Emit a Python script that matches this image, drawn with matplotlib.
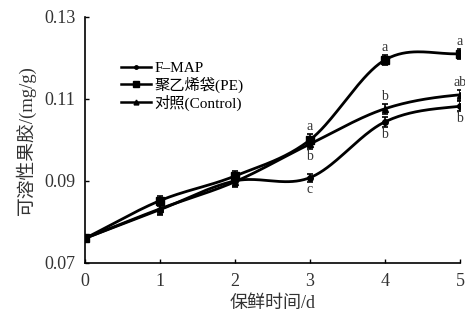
import numpy as np
import matplotlib
matplotlib.use("Agg")
import matplotlib.pyplot as plt

plt.rcParams['font.family'] = ['Liberation Serif', 'Noto Sans CJK SC']
plt.rcParams['axes.unicode_minus'] = False

days = [0, 1, 2, 3, 4, 5]
fmap = [0.0760, 0.0830, 0.0900, 0.0908, 0.1044, 0.1082]
pe = [0.0760, 0.0852, 0.0912, 0.1000, 0.1195, 0.1210]
ctrl = [0.0760, 0.0832, 0.0898, 0.0990, 0.1076, 0.1110]
fmap_err = [0.0008, 0.0012, 0.0012, 0.0010, 0.0012, 0.0012]
pe_err = [0.0008, 0.0012, 0.0012, 0.0014, 0.0012, 0.0012]
ctrl_err = [0.0008, 0.0012, 0.0012, 0.0012, 0.0012, 0.0012]

labels_pe = {3: 'a', 4: 'a', 5: 'a'}
labels_ctrl = {3: 'b', 4: 'b', 5: 'ab'}
labels_fmap = {3: 'c', 4: 'b', 5: 'b'}


def smooth(x, y, n=40):
    # cubic Hermite through the points, slopes from neighbours
    x = np.asarray(x, float)
    y = np.asarray(y, float)
    m = np.gradient(y, x)
    m[-1] = 0.5 * (y[-1] - y[-2])
    xs, ys = [], []
    for i in range(len(x) - 1):
        h = x[i + 1] - x[i]
        t = np.linspace(0, 1, n)
        h00 = 2 * t**3 - 3 * t**2 + 1
        h10 = t**3 - 2 * t**2 + t
        h01 = -2 * t**3 + 3 * t**2
        h11 = t**3 - t**2
        xs.append(x[i] + t * h)
        ys.append(h00 * y[i] + h10 * h * m[i] + h01 * y[i + 1] + h11 * h * m[i + 1])
    return np.concatenate(xs), np.concatenate(ys)


fig = plt.figure(figsize=(4.65, 3.25), dpi=100)
ax = fig.add_axes([0.183, 0.191, 0.806, 0.757])

series = [
    (fmap, fmap_err, 'o', 4, 'F\u2013MAP'),
    (pe, pe_err, 's', 5.5, '聚乙烯袋(PE)'),
    (ctrl, ctrl_err, '^', 5, '对照(Control)'),
]
for vals, err, mk, ms, lab in series:
    sx, sy = smooth(days, vals)
    ax.plot(sx, sy, color='black', lw=2, zorder=2)
    ax.errorbar(days, vals, yerr=err, fmt=mk, ms=ms, color='black',
                ecolor='black', elinewidth=1.2, capsize=2.5, capthick=1.2,
                zorder=3)
    ax.plot([], [], color='black', lw=1.8, marker=mk, ms=ms - 1.5, label=lab)

fs_sig = 10
for d, t in labels_pe.items():
    i = days.index(d)
    ax.text(d, pe[i] + pe_err[i] + 0.0003, t, ha='center', va='bottom',
            fontsize=fs_sig, color='#333333')
for d, t in labels_ctrl.items():
    i = days.index(d)
    if d == 3:
        ax.text(d, ctrl[i] - ctrl_err[i] - 0.0003, t, ha='center', va='top',
                fontsize=fs_sig, color='#333333')
    else:
        ax.text(d, ctrl[i] + ctrl_err[i] + 0.0003, t, ha='center', va='bottom',
                fontsize=fs_sig, color='#333333')
for d, t in labels_fmap.items():
    i = days.index(d)
    ax.text(d, fmap[i] - fmap_err[i] - 0.0003, t, ha='center', va='top',
            fontsize=fs_sig, color='#333333')

ax.set_xlim(0, 5)
ax.set_ylim(0.07, 0.13)
ax.set_xticks(days)
ax.set_yticks([0.07, 0.09, 0.11, 0.13])
ax.set_yticklabels(['0.07', '0.09', '0.11', '0.13'])
ax.tick_params(direction='in', length=3, width=1, labelsize=13, pad=7,
               labelcolor='#333333')
ax.spines['top'].set_visible(False)
ax.spines['right'].set_visible(False)
for s in ['left', 'bottom']:
    ax.spines[s].set_linewidth(1.2)

ax.set_xlabel('保鲜时间/d', fontsize=13, color='#333333', labelpad=4)
ax.set_ylabel('可溶性果胶/(mg/g)', fontsize=13.5, color='#333333', labelpad=6)

ax.legend(loc='upper left', bbox_to_anchor=(0.075, 0.85), frameon=False,
          fontsize=11, handlelength=2.0, handletextpad=0.2, labelspacing=0.1,
          borderpad=0)

fig.savefig('out.png', dpi=100)
